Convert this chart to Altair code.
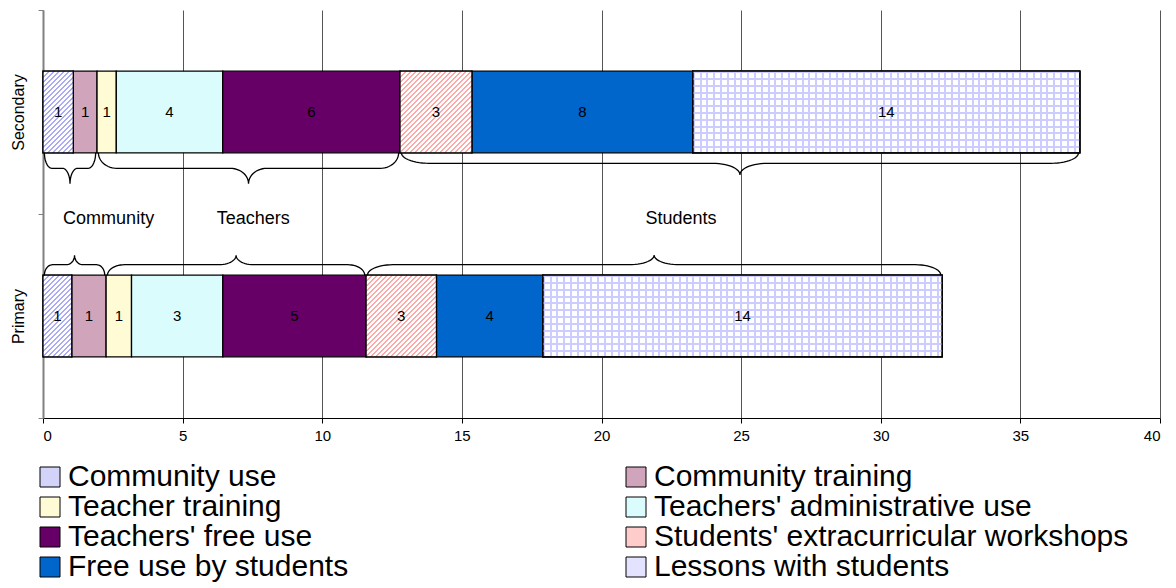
import altair as alt
import numpy as np
import pandas as pd

# ---------------- data ----------------
categories = ["Community use", "Community training", "Teacher training",
              "Teachers' administrative use", "Teachers' free use",
              "Students' extracurricular workshops", "Free use by students",
              "Lessons with students"]
colors = ["#d3d3fa", "#d0a4ba", "#fffbd4", "#dafcfc", "#660066",
          "#ffcccc", "#0066cc", "#e3e3ff"]
levels = ["Secondary", "Primary"]
secondary_values = [1.085, 0.85, 0.69, 3.81, 6.35, 2.575, 7.91, 13.86]
primary_values = [1.03, 1.23, 0.91, 3.27, 5.13, 2.52, 3.81, 14.3]
groups = ["Community", "Teachers", "Students"]
group_sizes = [2, 3, 3]
group_label_x = [2.35, 7.53, 22.85]
x_ticks = [0, 5, 10, 15, 20, 25, 30, 35, 40]

# ---------------- layout / style ----------------
W, H = 1117, 408
X_MAX = 40
BAR_BAND = 0.4
FONT = "Liberation Sans"
PX_PER_UNIT = W / X_MAX
BAR_PX = BAR_BAND * H / 2

# hatch styles (pattern look of the original fills)
diag_hatch = {"Community use": "#aaaaf6",
              "Students' extracurricular workshops": "#ffa8a8"}
grid_hatch = {"Lessons with students": "#ccccff"}
CLEAR = "rgba(255,255,255,0)"


def stripe_stops(total, period, frac, color, bg):
    stops = []
    j = 0
    while j * period < total:
        s = j * period / total
        m = min((j * period + frac * period) / total, 1.0)
        e = min((j + 1) * period / total, 1.0)
        stops += [{"offset": s, "color": color}, {"offset": m, "color": color},
                  {"offset": m, "color": bg}, {"offset": e, "color": bg}]
        j += 1
    return stops


def diag_gradient(w, h, color, bg="#ffffff", period=5.0, frac=0.38):
    k = (w + h) / (w * w + h * h)
    return {"gradient": "linear", "x1": 0, "y1": 0, "x2": w * k, "y2": h * k,
            "stops": stripe_stops(w + h, period, frac, color, bg)}


def line_gradient(length, vertical_lines, color, bg, period=6.8, frac=0.3):
    return {"gradient": "linear", "x1": 0, "y1": 0,
            "x2": 1 if vertical_lines else 0, "y2": 0 if vertical_lines else 1,
            "stops": stripe_stops(length, period, frac, color, bg)}


rows = []
for lvl, vals in zip(levels, [secondary_values, primary_values]):
    for i, (c, v) in enumerate(zip(categories, vals)):
        w = v * PX_PER_UNIT
        fill1, fill2 = None, None
        if c in diag_hatch:
            fill1 = diag_gradient(w, BAR_PX, diag_hatch[c])
        elif c in grid_hatch:
            fill1 = line_gradient(w, True, grid_hatch[c], "#ffffff")
            fill2 = line_gradient(BAR_PX, False, grid_hatch[c], CLEAR)
        rows.append({"level": lvl, "category": c, "order": i, "value": v,
                     "pat": fill1 is not None, "pat2": fill2 is not None,
                     "fill1": fill1 if fill1 is not None else "#ffffff",
                     "fill2": fill2 if fill2 is not None else CLEAR})
df = pd.DataFrame(rows)

# legend laid out column-major in 2 columns: reorder so it reads row by row
legend_values = categories[0::2] + categories[1::2]

# normalized vertical coordinate: 0 (bottom) .. 2 (top), one unit per band
sec_bottom = 1.5 - BAR_BAND / 2
pri_top = 0.5 + BAR_BAND / 2
px = 1.0 / (H / 2)  # one pixel in normalized units

# brace depths (pixels): (to flat part, to tip)
sec_depths = [(15.5, 31), (15.5, 31), (10.5, 22)]
pri_depths = [(10.5, 20), (10.5, 20), (10.5, 20)]


def brace(a, b, base, d1, d2, sign):
    L = b - a
    r = 0.2 * np.sqrt(L)
    r = min(r, L / 4)
    c = (a + b) / 2
    th = np.linspace(0, np.pi / 2, 14)
    x1 = a + r * (1 - np.cos(th))
    y1 = base + sign * d1 * np.sin(th)
    x2 = c - r + r * np.sin(th)
    y2 = base + sign * (d1 + (d2 - d1) * (1 - np.cos(th)))
    lx = np.concatenate([x1, x2])
    ly = np.concatenate([y1, y2])
    rx = 2 * c - lx[::-1]
    ry = ly[::-1]
    return np.concatenate([lx, rx]), np.concatenate([ly, ry])


brace_rows = []
bid = 0
for lvl, vals, base, sign, depths in [
        ("Secondary", secondary_values, sec_bottom, -1, sec_depths),
        ("Primary", primary_values, pri_top, 1, pri_depths)]:
    cum = np.concatenate([[0], np.cumsum(vals)])
    start = 0
    for g, size, (d1, d2) in zip(groups, group_sizes, depths):
        a, b = cum[start], cum[start + size]
        xs, ys = brace(a + 0.05, b - 0.05, base, d1 * px, d2 * px, sign)
        for k, (xx, yy) in enumerate(zip(xs, ys)):
            brace_rows.append({"bx": xx, "by": yy, "bid": bid, "i": k})
        bid += 1
        start += size
braces_df = pd.DataFrame(brace_rows)

labels_df = pd.DataFrame({"group": groups, "gx": group_label_x,
                          "gy": [(sec_bottom + pri_top) / 2] * len(groups)})

xscale = alt.Scale(domain=[0, X_MAX], nice=False, zero=True)
yq = alt.Scale(domain=[0, 2], nice=False, zero=False)

base = alt.Chart(df).transform_stack(
    stack="value", groupby=["level"], as_=["x0", "x1"],
    sort=[alt.SortField("order", order="ascending")]
)

yband = alt.Y("level:N", sort=levels, title=None,
              scale=alt.Scale(paddingInner=0, paddingOuter=0))
bar_h = alt.RelativeBandSize(BAR_BAND)

bars = base.mark_bar(stroke="black", strokeWidth=1.3, opacity=1,
                     height=bar_h).encode(
    x=alt.X("x0:Q", scale=xscale, title=None,
            axis=alt.Axis(values=x_ticks)),
    x2="x1:Q",
    y=yband,
    color=alt.Color("category:N",
                    scale=alt.Scale(domain=categories, range=colors),
                    legend=alt.Legend(
                        values=legend_values,
                        orient="none", legendX=-8, legendY=452,
                        columns=2, columnPadding=272, rowPadding=0,
                        symbolType="square", symbolSize=400,
                        symbolStrokeColor="black", symbolStrokeWidth=1,
                        symbolOpacity=1,
                        labelFontSize=30, labelFont=FONT, labelColor="black",
                        labelOffset=3, labelLimit=800, title=None, padding=0,
                    )),
    order=alt.Order("order:Q"),
)

pattern1 = base.transform_filter("datum.pat").mark_bar(
    stroke="black", strokeWidth=1.3, height=bar_h).encode(
    x=alt.X("x0:Q", scale=xscale, title=None),
    x2="x1:Q",
    y=yband,
    fill=alt.Fill("fill1:N", scale=None),
)

pattern2 = base.transform_filter("datum.pat2").mark_bar(
    stroke="black", strokeWidth=1.3, height=bar_h).encode(
    x=alt.X("x0:Q", scale=xscale, title=None),
    x2="x1:Q",
    y=yband,
    fill=alt.Fill("fill2:N", scale=None),
)

texts = base.transform_calculate(
    mid="(datum.x0 + datum.x1) / 2",
    lab="format(datum.value, '.0f')",
).mark_text(fontSize=15, font=FONT, color="black").encode(
    x=alt.X("mid:Q", scale=xscale, title=None),
    y=yband,
    text="lab:N",
)

brace_lines = alt.Chart(braces_df).mark_line(
    color="black", strokeWidth=1.3).encode(
    x=alt.X("bx:Q", scale=xscale, title=None),
    y=alt.Y("by:Q", scale=yq, axis=None, title=None),
    detail="bid:N",
    order="i:Q",
)

group_text = alt.Chart(labels_df).mark_text(
    fontSize=18, font=FONT, color="black", dy=5).encode(
    x=alt.X("gx:Q", scale=xscale, title=None),
    y=alt.Y("gy:Q", scale=yq, axis=None, title=None),
    text="group:N",
)

chart = alt.layer(
    alt.layer(bars, pattern1, pattern2, texts),
    alt.layer(brace_lines, group_text),
).resolve_scale(y="independent").properties(
    width=W, height=H,
    autosize=alt.AutoSizeParams(type="none"),
    padding={"left": 43, "top": 10, "right": 16, "bottom": 170},
).configure_view(stroke=None).configure_axisX(
    grid=True, gridColor="#555555", gridWidth=1,
    domainColor="black", tickColor="black", tickSize=5,
    labelFontSize=15, labelFont=FONT, labelColor="black", labelPadding=5,
).configure_axisY(
    grid=False, domainColor="#808080", domainWidth=2,
    tickColor="#808080", tickSize=5, tickBand="extent",
    labelAngle=-90, labelFontSize=16, labelFont=FONT, labelColor="black",
    labelPadding=12,
)

chart.save("out.html", embed_options={"renderer": "svg", "actions": False})
